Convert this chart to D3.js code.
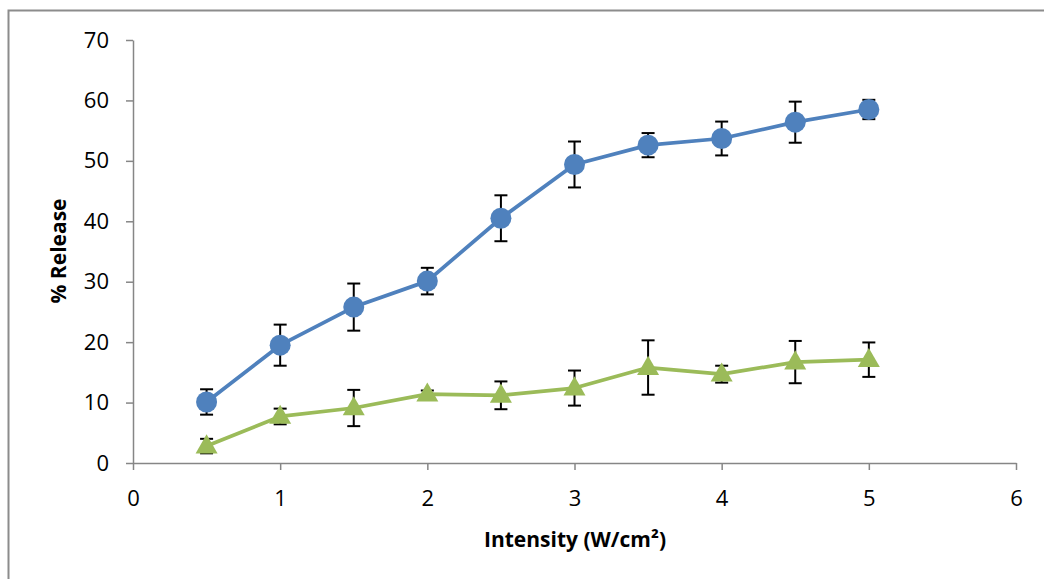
<!DOCTYPE html>
<html>
<head>
<meta charset="utf-8">
<script src="https://cdn.jsdelivr.net/npm/d3@7"></script>
<style>
  html, body { margin: 0; padding: 0; background: #fff; }
  svg { display: block; }
</style>
</head>
<body>
<div id="chart"></div>
<script>
// ── Data ──
const intensity = [0.5, 1, 1.5, 2, 2.5, 3, 3.5, 4, 4.5, 5];
const blueRelease = [10.1, 19.5, 25.8, 30.1, 40.5, 49.4, 52.6, 53.7, 56.4, 58.5];
const blueError   = [2.1, 3.4, 3.9, 2.2, 3.8, 3.8, 2.0, 2.8, 3.4, 1.6];
const greenRelease = [2.8, 7.7, 9.1, 11.4, 11.2, 12.4, 15.8, 14.7, 16.7, 17.1];
const greenError   = [1.2, 1.3, 3.0, 0.6, 2.3, 2.9, 4.5, 1.4, 3.5, 2.85];
const xTicks = [0, 1, 2, 3, 4, 5, 6];
const yTicks = [0, 10, 20, 30, 40, 50, 60, 70];

const W = 1044, H = 579;
const margin = { left: 133, right: 28, top: 40, bottom: 116 };
const FONT = '"Open Sans", Lato, "DejaVu Sans", sans-serif';
const AXIS_GREY = '#868686';

const svg = d3.select('#chart').append('svg')
  .attr('width', W).attr('height', H);

// outer chart border (runs off the right and bottom edges)
svg.append('rect')
  .attr('x', 8.5).attr('y', 10.5)
  .attr('width', W + 10).attr('height', H + 10)
  .attr('fill', 'none')
  .attr('stroke', '#8c8c8c')
  .attr('stroke-width', 2);

const x = d3.scaleLinear().domain([0, 6]).range([margin.left, W - margin.right]);
const y = d3.scaleLinear().domain([0, 70]).range([H - margin.bottom, margin.top]);

// axes
const xAxis = svg.append('g')
  .attr('transform', `translate(0,${y(0)})`)
  .call(d3.axisBottom(x).tickValues(xTicks).tickFormat(d3.format('d'))
    .tickSize(7).tickPadding(20).tickSizeOuter(0));
const yAxis = svg.append('g')
  .attr('transform', `translate(${x(0)},0)`)
  .call(d3.axisLeft(y).tickValues(yTicks).tickFormat(d3.format('d'))
    .tickSize(7).tickPadding(17).tickSizeOuter(0));

[xAxis, yAxis].forEach(a => {
  a.select('.domain').attr('stroke', AXIS_GREY).attr('stroke-width', 1.5);
  a.selectAll('.tick line').attr('stroke', AXIS_GREY).attr('stroke-width', 1.5);
  a.selectAll('.tick text')
    .attr('fill', '#000')
    .style('font-family', FONT)
    .style('font-size', '22px');
});

// axis titles
svg.append('text')
  .attr('x', 575).attr('y', 547)
  .attr('text-anchor', 'middle')
  .style('font-family', FONT).style('font-size', '21px').style('font-weight', 'bold')
  .text('Intensity (W/cm²)');

svg.append('text')
  .attr('transform', 'translate(66,251) rotate(-90)')
  .attr('text-anchor', 'middle')
  .style('font-family', FONT).style('font-size', '21px').style('font-weight', 'bold')
  .text('% Release');

// ── series ──
function drawSeries(vals, errs, color, marker) {
  const pts = intensity.map((d, i) => ({ x: d, y: vals[i], e: errs[i] }));
  const g = svg.append('g');

  // error bars (drawn beneath markers)
  const eb = g.append('g').attr('stroke', '#000').attr('stroke-width', 2);
  pts.forEach(p => {
    const cx = x(p.x);
    eb.append('line').attr('x1', cx).attr('x2', cx).attr('y1', y(p.y - p.e)).attr('y2', y(p.y + p.e));
    eb.append('line').attr('x1', cx - 6.5).attr('x2', cx + 6.5).attr('y1', y(p.y + p.e)).attr('y2', y(p.y + p.e));
    eb.append('line').attr('x1', cx - 6.5).attr('x2', cx + 6.5).attr('y1', y(p.y - p.e)).attr('y2', y(p.y - p.e));
  });

  g.append('path')
    .datum(pts)
    .attr('fill', 'none')
    .attr('stroke', color)
    .attr('stroke-width', 3.75)
    .attr('stroke-linejoin', 'round')
    .attr('d', d3.line().x(d => x(d.x)).y(d => y(d.y)));

  if (marker === 'circle') {
    g.selectAll('circle').data(pts).join('circle')
      .attr('cx', d => x(d.x)).attr('cy', d => y(d.y))
      .attr('r', 10.5)
      .attr('fill', color);
  } else {
    const tri = d3.symbol().type(d3.symbolTriangle).size(210);
    g.selectAll('path.tri').data(pts).join('path')
      .attr('class', 'tri')
      .attr('transform', d => `translate(${x(d.x)},${y(d.y) + 1})`)
      .attr('d', tri)
      .attr('fill', color);
  }
}

drawSeries(blueRelease, blueError, '#4F81BD', 'circle');
drawSeries(greenRelease, greenError, '#9BBB59', 'triangle');
</script>
</body>
</html>
